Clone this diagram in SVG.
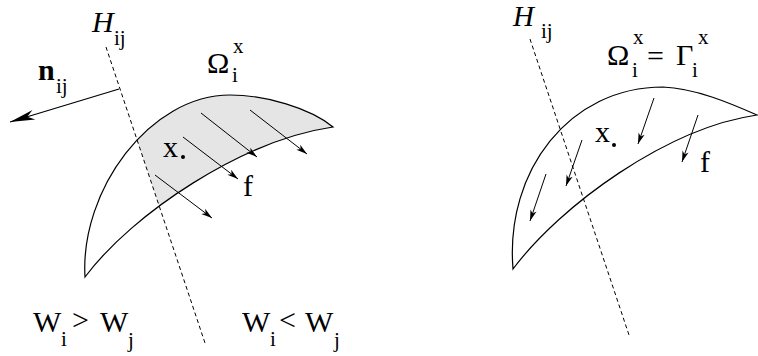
<svg xmlns="http://www.w3.org/2000/svg" width="758" height="356" viewBox="0 0 758 356">
<style>
.t{font-size:30px}
.s{font-size:21px}
.it{font-style:italic}
.b{font-weight:bold}
.curve{fill:none;stroke:#000;stroke-width:1.2}
.dash{fill:none;stroke:#000;stroke-width:1;stroke-dasharray:4 3}
.arr{fill:none;stroke:#000;stroke-width:1;marker-end:url(#ah)}
</style>
<defs>
<marker id="ah" viewBox="-12 -5 13 10" refX="0" refY="0" markerWidth="13" markerHeight="10" markerUnits="userSpaceOnUse" orient="auto">
<path d="M0,0 L-11,-3.2 L-8,0 L-11,3.2 Z" fill="#000"/>
</marker>
<marker id="ahb" viewBox="-27 -7 28 14" refX="0" refY="0" markerWidth="28" markerHeight="14" markerUnits="userSpaceOnUse" orient="auto">
<path d="M0,0 L-25,-5 L-18,0 L-25,5 Z" fill="#000"/>
</marker>
<clipPath id="rightOfH">
<polygon points="90.3,0 400,0 400,356 209.4,356"/>
</clipPath>
</defs>

<g id="left-region">
<path d="M85,277 C80,190 150,95 230,95 C265,95 310,108 333,127 C243,140 133,213 85,277 Z" fill="#e5e5e5" stroke="none" clip-path="url(#rightOfH)"/>
<path class="curve" d="M85,277 C80,190 150,95 230,95 C265,95 310,108 333,127 C243,140 133,213 85,277 Z"/>
</g>

<g id="right-region">
<path class="curve" d="M513,269 C505,170 570,87 663,87 C695,88 732,104 757,115 C667,128 561,205 513,269 Z"/>
</g>

<g id="connectors">
<line class="dash" x1="106" y1="47" x2="205" y2="343"/>
<line class="dash" x1="530" y1="39" x2="629" y2="335"/>
<line x1="119" y1="89" x2="10" y2="122" stroke="#000" stroke-width="1.3" marker-end="url(#ahb)"/>
<line class="arr" x1="155" y1="175" x2="212" y2="218"/>
<line class="arr" x1="183" y1="137" x2="238" y2="179"/>
<line class="arr" x1="201" y1="113" x2="257" y2="157"/>
<line class="arr" x1="250" y1="110" x2="307" y2="154"/>
<line class="arr" x1="654" y1="98" x2="638" y2="144"/>
<line class="arr" x1="698" y1="115" x2="682" y2="162"/>
<line class="arr" x1="582" y1="140" x2="566" y2="186"/>
<line class="arr" x1="546" y1="174" x2="530" y2="221"/>
</g>

<g id="left-labels" font-family="Liberation Serif, Times New Roman, serif" fill="#000">
<text class="t it" x="92" y="32">H</text><text class="s" x="114" y="45">ij</text>
<text class="t b" x="38" y="80">n</text><text class="s" x="56" y="93">ij</text>
<text class="t" x="207" y="73">Ω</text><text class="s" x="233" y="53">x</text><text class="s" x="232" y="82">i</text>
<text class="t" x="163" y="157">x</text><circle cx="183" cy="157" r="2" fill="#000"/>
<text class="t" x="243" y="196">f</text>
<text class="t" x="33" y="332">W</text><text class="s" x="61" y="346">i</text>
<text class="t" x="72" y="330">&gt;</text>
<text class="t" x="100" y="332">W</text><text class="s" x="128" y="347">j</text>
<text class="t" x="242" y="332">W</text><text class="s" x="270" y="346">i</text>
<text class="t" x="279" y="330">&lt;</text>
<text class="t" x="305" y="332">W</text><text class="s" x="334" y="347">j</text>
</g>

<g id="right-labels" font-family="Liberation Serif, Times New Roman, serif" fill="#000">
<text class="it" font-size="29" x="513" y="26">H</text><text class="s" x="541" y="38">ij</text>
<text class="t" x="607" y="65">Ω</text><text class="s" x="633" y="44">x</text><text class="s" x="632" y="77">i</text>
<text class="t" x="647" y="66">=</text>
<text class="t" x="676" y="65">Γ</text><text class="s" x="698" y="44">x</text><text class="s" x="692" y="77">i</text>
<text class="t" x="595" y="142">x</text><circle cx="614" cy="145" r="2" fill="#000"/>
<text class="t" x="700" y="172">f</text>
</g>
</svg>
